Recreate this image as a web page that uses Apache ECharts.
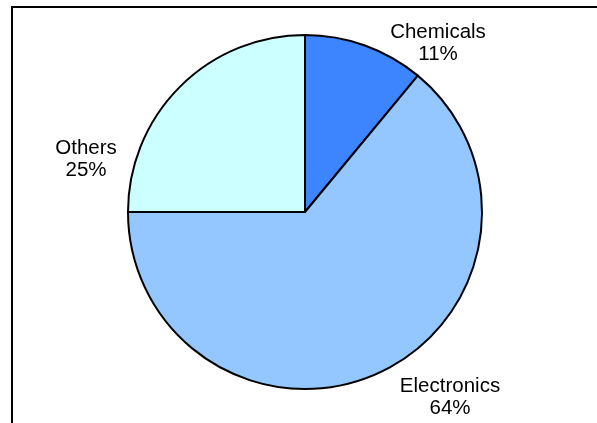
<!DOCTYPE html>
<html>
<head>
<meta charset="utf-8">
<script src="https://cdn.jsdelivr.net/npm/echarts@6/dist/echarts.min.js"></script>
<style>
  html, body { margin: 0; padding: 0; background: #ffffff; }
  #chart { width: 597px; height: 423px; }
</style>
</head>
<body>
<div id="chart"></div>
<script>
// Sector shares of the portfolio
const categories = ['Chemicals', 'Electronics', 'Others'];
const shares = [11, 64, 25];
const sliceColors = ['#3d85ff', '#94c7ff', '#ccffff'];

// Where each slice's caption sits (block centre, px)
const labelSpots = [
  { x: 438, y: 43 },
  { x: 450, y: 397 },
  { x: 86, y: 159 }
];

const chart = echarts.init(document.getElementById('chart'), null, { renderer: 'canvas' });

chart.setOption({
  backgroundColor: '#ffffff',
  animation: false,
  graphic: [{
    type: 'rect',
    shape: { x: 12, y: 7, width: 620, height: 440 },
    style: { fill: 'none', stroke: '#000000', lineWidth: 2 },
    silent: true
  }],
  series: [{
    type: 'pie',
    center: [305, 212],
    radius: 177,
    startAngle: 90,
    clockwise: true,
    avoidLabelOverlap: false,
    data: categories.map((name, i) => ({
      name: name,
      value: shares[i],
      itemStyle: { color: sliceColors[i] }
    })),
    itemStyle: { borderColor: '#000000', borderWidth: 2 },
    label: {
      show: true,
      position: 'outside',
      fontFamily: 'Liberation Sans, Arial, sans-serif',
      fontSize: 20.5,
      lineHeight: 22,
      color: '#000000',
      align: 'center',
      formatter: p => p.name + '\n' + Math.round(p.percent) + '%'
    },
    labelLine: { show: false },
    labelLayout: p => ({
      x: labelSpots[p.dataIndex].x,
      y: labelSpots[p.dataIndex].y,
      align: 'center',
      verticalAlign: 'middle'
    }),
    emphasis: { disabled: true }
  }]
});
</script>
</body>
</html>
